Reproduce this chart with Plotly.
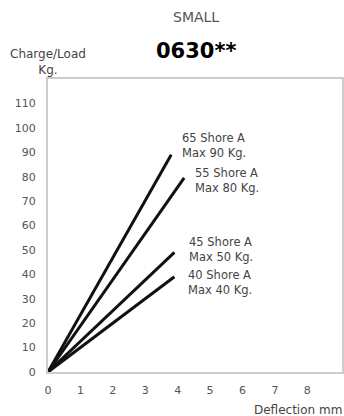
import plotly.graph_objects as go

# Data
series_names = ["65 Shore A", "55 Shore A", "45 Shore A", "40 Shore A"]
max_labels = ["Max 90 Kg.", "Max 80 Kg.", "Max 50 Kg.", "Max 40 Kg."]
deflection_end = [3.8, 4.2, 3.9, 3.9]   # mm
load_end = [89, 79.5, 49, 39]          # Kg
x_ticks = [0, 1, 2, 3, 4, 5, 6, 7, 8]
y_ticks = [0, 10, 20, 30, 40, 50, 60, 70, 80, 90, 100, 110]

FONT = "DejaVu Sans"
W, H = 344, 416
L, R, T, B = 48, 2, 79, 44
PW, PH = W - L - R, H - T - B


def px(p):
    return (p - L) / PW


def py(p):
    return (H - B - p) / PH


# label anchor positions (pixels)
label_left = [180, 193, 187, 186]
label_mid = [145.5, 180, 249, 282.5]

fig = go.Figure()
for name, xe, ye in zip(series_names, deflection_end, load_end):
    fig.add_trace(go.Scatter(x=[0, xe], y=[0, ye], mode="lines", name=name,
                             line=dict(color="#111111", width=3), showlegend=False))

for name, mx, lx, ly in zip(series_names, max_labels, label_left, label_mid):
    fig.add_annotation(x=px(lx), y=py(ly), xref="paper", yref="paper",
                       text=name + "<br>" + mx, showarrow=False,
                       xanchor="left", yanchor="middle", align="left",
                       font=dict(family=FONT, size=11.5, color="#444444"))

fig.add_annotation(x=px(196), y=py(17), xref="paper", yref="paper", text="SMALL",
                   showarrow=False, yanchor="middle", xanchor="center",
                   font=dict(family=FONT, size=14, color="#555555"))
fig.add_annotation(x=px(196), y=py(51), xref="paper", yref="paper", text="<b>0630**</b>",
                   showarrow=False, yanchor="middle", xanchor="center",
                   font=dict(family=FONT, size=21, color="#000000"))
fig.add_annotation(x=px(48), y=py(62), xref="paper", yref="paper",
                   text="Charge/Load<br>Kg.", showarrow=False, yanchor="middle",
                   xanchor="center", align="center",
                   font=dict(family=FONT, size=12, color="#444444"))
fig.add_annotation(x=px(344), y=py(410), xref="paper", yref="paper",
                   text="Deflection mm", showarrow=False, yanchor="middle", xanchor="right",
                   font=dict(family=FONT, size=12, color="#444444"))

fig.update_layout(
    width=W, height=H,
    margin=dict(l=L, r=R, t=T, b=B, autoexpand=False),
    paper_bgcolor="white", plot_bgcolor="white",
    xaxis=dict(range=[0, 9.07], tickvals=x_ticks, showgrid=False, zeroline=False,
               showline=True, mirror=True, linecolor="#cccccc", linewidth=2,
               ticks="", ticklabelstandoff=7, automargin=False,
               tickfont=dict(family=FONT, size=11, color="#555555")),
    yaxis=dict(range=[0, 120], tickvals=y_ticks, showgrid=False, zeroline=False,
               showline=True, mirror=True, linecolor="#cccccc", linewidth=2,
               ticks="", ticklabelstandoff=8, automargin=False,
               tickfont=dict(family=FONT, size=11, color="#555555")),
)

fig.write_html("out.html", config={"displayModeBar": False},
               post_script="document.body.style.margin='0px';")
